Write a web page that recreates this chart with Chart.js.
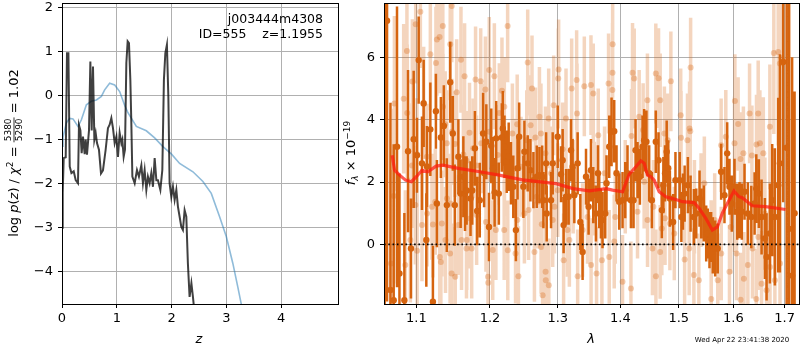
<!DOCTYPE html>
<html>
<head>
<meta charset="utf-8">
<script src="https://cdn.jsdelivr.net/npm/chart.js@4.4.0/dist/chart.umd.min.js"></script>
<style>
  html, body { margin: 0; padding: 0; background: #fff; width: 800px; height: 350px; overflow: hidden; }
  #pz { position: absolute; left: 0; top: 0; }
  #spec { position: absolute; left: 340px; top: 0; }
  canvas { display: block; }
</style>
</head>
<body>
<canvas id="pz" width="340" height="350"></canvas>
<canvas id="spec" width="460" height="350"></canvas>
<script>
// ---------- redshift panel: log p(z) and chi^2 curve ----------
const zTicks = [0, 1, 2, 3, 4];
const logpTicks = [-4, -3, -2, -1, 0, 1, 2];

const zDark = [0.000,0.013,0.031,0.068,0.091,0.117,0.141,0.172,0.214,0.250,
  0.292,0.310,0.336,0.359,0.383,0.414,0.432,0.456,0.493,0.518,
  0.542,0.566,0.591,0.615,0.639,0.675,0.712,0.748,0.797,0.839,
  0.870,0.901,0.931,0.962,0.993,1.022,1.053,1.084,1.102,1.126,
  1.150,1.175,1.199,1.223,1.248,1.266,1.285,1.327,1.369,1.405,
  1.449,1.478,1.509,1.540,1.569,1.600,1.631,1.661,1.692,1.723,
  1.752,1.796,1.832,1.861,1.887,1.916,1.942,1.965,1.996,2.026,
  2.057,2.088,2.117,2.148,2.179,2.208,2.239,2.270,2.299,2.330,
  2.363,2.391,2.422,2.460,2.520];
const logpDark = [-3.00,-2.20,-1.42,-1.40,0.96,0.96,-1.61,-1.76,-1.72,-1.92,
  -1.99,-0.67,-0.79,-1.31,-0.93,-1.33,-1.00,-1.34,-0.79,0.77,
  -0.79,0.66,-1.00,-0.85,-1.08,-1.23,-1.77,-1.70,-1.23,-0.74,
  -0.66,-0.51,-0.74,-1.08,-0.93,-1.39,-0.85,-1.08,-1.00,-1.39,
  -1.23,0.74,1.23,1.19,0.36,-0.62,-1.84,-1.99,-1.69,-1.84,
  -1.58,-1.99,-1.69,-2.14,-1.84,-1.99,-1.76,-2.07,-1.42,-1.92,
  -1.92,-2.14,-1.69,0.36,0.96,1.15,-0.02,-1.99,-2.30,-2.07,
  -2.37,-2.14,-2.52,-2.75,-2.98,-3.05,-2.60,-2.75,-3.81,-4.57,
  -4.26,-4.57,-4.95,-5.60,-6.50];

const zBlue = [0.000,0.018,0.080,0.141,0.201,0.292,0.354,0.445,0.536,0.628,
  0.719,0.779,0.870,0.962,1.053,1.144,1.204,1.358,1.540,1.692,
  1.843,2.000,2.148,2.391,2.573,2.726,2.878,3.000,3.120,3.210,
  3.270,3.400];
const logpBlue = [-1.15,-0.95,-0.62,-0.52,-0.53,-0.70,-0.55,-0.21,-0.13,-0.10,
  -0.02,0.13,0.28,0.24,0.09,-0.22,-0.39,-0.70,-0.80,-0.96,
  -1.16,-1.33,-1.54,-1.73,-1.95,-2.22,-2.75,-3.20,-3.81,-4.34,
  -4.71,-5.60];

// ---------- spectrum panel ----------
const waveTicks = [1.1, 1.2, 1.3, 1.4, 1.5, 1.6, 1.7];
const fluxTicks = [0, 2, 4, 6];

const darkWave = [1.0595,1.0625,1.0668,1.0709,1.0751,1.0782,1.0845,1.0892,1.0930,1.0965,
  1.1008,1.1030,1.1073,1.1095,1.1130,1.1138,1.1183,1.1217,1.1257,1.1270,
  1.1323,1.1363,1.1403,1.1449,1.1484,1.1511,1.1560,1.1591,1.1628,1.1651,
  1.1673,1.1727,1.1751,1.1788,1.1819,1.1856,1.1903,1.1917,1.1948,1.1986,
  1.2018,1.2042,1.2066,1.2088,1.2126,1.2169,1.2183,1.2207,1.2240,1.2268,
  1.2301,1.2335,1.2373,1.2397,1.2421,
  1.2483,1.2498,1.2547,1.2587,1.2632,1.2682,1.2722,1.2763,1.2782,1.2823,
  1.2832,1.2898,1.2923,1.3000,1.3051,1.3076,1.3091,1.3128,1.3169,1.3206,
  1.3231,1.3258,1.3310,1.3352,1.3388,1.3442,1.3483,1.3521,1.3558,1.3601,
  1.3633,1.3654,1.3681,1.3707,1.3751,1.3772,1.3816,1.3854,1.3898,1.3936,
  1.3980,1.4035,1.4080,1.4118,1.4175,1.4219,1.4253,1.4286,1.4326,1.4371,
  1.4398,1.4437,1.4484,1.4530,1.4598,
  1.4645,1.4702,1.4729,1.4758,1.4787,1.4814,1.4843,1.4900,1.4941,1.5016,
  1.5046,1.5074,1.5104,1.5162,1.5211,1.5270,1.5313,1.5372,1.5403,1.5450,
  1.5494,1.5523,1.5554,1.5585,1.5615,1.5659,1.5707,1.5770,1.5832,1.5883,
  1.5926,1.5970,1.6021,1.6073,1.6116,1.6160,1.6212,1.6276,1.6342,1.6406,
  1.6439,1.6489,1.6542,1.6607,1.6640,1.6705,1.6751,1.6804,1.6870,1.6904,
  1.6970,1.7039,1.7090,1.7150,1.7200];
const darkFlux = [2.50,7.17,-1.46,-1.79,3.13,-0.93,-1.79,2.99,-0.13,3.37,
  2.86,5.91,2.60,4.52,0.14,2.50,3.69,-1.84,4.27,1.31,
  3.43,3.80,1.26,5.20,3.56,1.26,2.81,1.63,2.17,1.63,
  1.73,1.47,1.73,3.08,1.07,1.42,3.56,2.29,3.29,0.56,
  3.16,2.44,1.67,3.40,1.63,3.43,3.72,3.13,2.65,2.81,
  2.28,1.85,0.46,2.44,3.45,
  1.85,2.97,2.60,2.38,2.06,2.17,2.22,2.17,1.42,2.60,
  0.99,1.42,2.60,3.45,2.25,2.70,0.62,1.53,1.53,3.02,
  2.49,1.58,2.60,0.72,-0.24,2.17,1.21,2.38,1.58,0.99,
  2.28,1.42,0.99,0.78,0.99,1.96,3.13,3.61,3.63,2.28,
  1.37,1.42,1.74,2.28,1.42,1.42,3.02,2.38,2.17,3.13,
  3.34,3.29,2.28,1.42,3.29,
  2.70,1.10,1.90,2.28,2.97,2.44,1.47,0.72,2.06,2.06,
  0.88,1.37,1.63,1.90,1.31,0.88,0.99,1.47,0.99,0.99,
  0.35,0.35,0.14,0.24,-0.03,-0.13,-0.13,2.33,1.58,2.92,
  1.85,1.31,1.85,1.05,1.10,1.05,1.69,0.99,0.88,1.31,
  1.79,1.63,0.88,0.19,-0.40,0.35,1.42,0.88,1.90,2.60,
  5.85,3.10,0.50,-1.00,1.00];
const darkErr = [10,9,6,5,4.5,3.2,2.8,2.6,1.6,2.2,
  1.2,1.4,1.5,1.4,1.5,1.3,1.5,1.8,1.2,1.4,
  1.3,1.3,1.5,1.3,1.2,1.3,1.2,1.1,1.3,1.2,
  1.1,1.2,1.1,1.2,1.1,1.2,1.3,1.1,1.2,1.1,
  1.2,1.0,1.1,1.2,1.0,1.1,1.2,1.0,1.0,1.1,
  1.0,1.0,1.0,1.0,1.1,
  1.0,1.0,0.9,1.0,0.9,1.0,0.9,1.0,0.9,1.0,
  0.9,0.9,1.0,1.0,0.9,1.0,0.9,0.9,0.9,1.0,
  0.9,0.9,1.0,0.9,0.9,0.9,0.9,1.0,0.9,0.9,
  0.9,0.9,0.8,0.9,0.8,0.9,1.0,1.1,1.0,0.9,
  0.9,0.9,0.9,0.9,0.9,0.9,1.0,0.9,0.9,1.0,
  1.0,1.0,0.9,0.9,1.0,
  0.9,0.9,0.9,0.9,1.0,0.9,0.9,0.9,0.9,0.9,
  0.8,0.9,0.9,0.9,0.9,0.9,0.8,0.9,0.8,0.9,
  0.9,0.8,0.9,0.8,0.9,0.9,0.8,0.9,0.9,1.0,
  0.9,0.9,0.9,0.9,0.9,0.9,0.9,1.0,1.0,1.0,
  1.1,1.1,1.2,1.3,1.4,1.6,1.8,2.2,2.8,3.5,
  4.5,5.5,9,7,3.9];

const lightWave = [1.0675,1.0709,1.0718,1.0836,1.0857,1.0878,1.0882,1.0922,1.0943,1.0948,
  1.0987,1.0991,1.1008,1.1010,1.1052,1.1073,1.1095,1.1138,1.1140,1.1183,
  1.1204,1.1217,1.1249,1.1257,1.1270,1.1306,1.1308,1.1323,1.1336,1.1349,
  1.1352,1.1381,1.1385,1.1403,1.1405,1.1447,1.1449,1.1452,1.1468,1.1470,
  1.1472,1.1515,1.1517,1.1536,1.1560,1.1595,1.1603,1.1628,1.1645,1.1671,
  1.1673,1.1675,1.1713,1.1722,1.1743,1.1764,1.1797,1.1810,1.1812,1.1869,
  1.1877,1.1901,1.1935,1.1943,1.1972,1.1975,1.1990,1.1992,1.2039,1.2062,
  1.2084,1.2110,1.2133,1.2171,1.2203,1.2205,1.2207,1.2253,1.2255,1.2322,
  1.2345,1.2368,1.2392,1.2394,1.2410,1.2448,1.2498,1.2533,1.2547,1.2560,
  1.2590,1.2611,1.2647,1.2662,1.2680,1.2700,1.2722,1.2745,1.2747,1.2758,
  1.2770,1.2813,1.2815,1.2818,1.2820,1.2862,1.2864,1.2898,1.2923,1.2938,
  1.2950,1.3000,1.3008,1.3014,1.3076,1.3091,1.3128,1.3150,1.3180,1.3216,
  1.3240,1.3294,1.3300,1.3310,1.3388,1.3415,1.3466,1.3521,1.3523,1.3558,
  1.3575,1.3611,1.3638,1.3697,1.3740,1.3805,1.3816,1.3868,1.3870,1.3872,
  1.3898,1.3915,1.4035,1.4080,1.4175,1.4185,1.4202,1.4230,1.4286,1.4314,
  1.4381,1.4398,1.4454,1.4456,1.4540,1.4557,1.4598,1.4600,1.4645,1.4673,
  1.4674,1.4702,1.4747,1.4758,1.4806,1.4843,1.4860,1.4920,1.5034,1.5040,
  1.5104,1.5155,1.5185,1.5192,1.5205,1.5211,1.5270,1.5280,1.5360,1.5400,
  1.5460,1.5585,1.5587,1.5650,1.5707,1.5770,1.5772,1.5857,1.5926,1.5950,
  1.6021,1.6023,1.6028,1.6058,1.6090,1.6136,1.6137,1.6190,1.6200,1.6276,
  1.6309,1.6354,1.6365,1.6439,1.6443,1.6476,1.6478,1.6509,1.6542,1.6576,
  1.6607,1.6640,1.6705,1.6707,1.6783,1.6804,1.6870,1.6904,1.6906,1.6937];
const lightFlux = [-0.61,1.55,4.52,4.67,-0.66,6.20,4.21,0.14,2.53,5.22,
  1.26,7.06,2.89,-0.20,7.46,0.62,4.54,2.81,0.99,6.10,
  1.21,0.64,1.37,5.82,6.57,6.65,-0.40,-0.56,0.67,7.00,
  4.41,3.85,0.14,3.24,1.47,-0.29,6.42,1.31,-0.93,7.64,
  3.61,3.22,-1.04,4.88,0.62,5.92,0.14,2.88,5.39,-0.13,
  2.68,0.14,3.58,0.83,-0.13,3.08,5.29,2.53,0.94,5.23,
  3.24,3.56,4.97,0.72,-1.04,-1.23,5.59,3.61,-0.18,5.39,
  0.46,2.87,4.21,4.93,0.46,4.41,2.52,7.00,-0.19,3.56,
  2.43,-0.29,3.85,0.78,-1.02,2.49,0.99,3.34,5.83,1.10,
  3.82,5.00,-0.24,3.43,1.53,1.37,4.09,3.56,-0.08,0.65,
  -1.63,2.92,-0.88,-1.15,0.99,4.04,-1.31,2.28,0.78,4.46,
  1.21,1.74,5.32,5.61,3.05,-0.51,4.04,0.46,0.14,5.00,
  1.85,5.27,4.20,-1.02,0.46,5.07,0.88,5.11,-0.66,4.84,
  1.79,-0.93,3.50,-0.51,2.28,5.16,-0.40,4.95,5.50,6.42,
  0.09,0.88,-1.20,1.85,-1.41,3.48,5.50,5.32,1.05,4.09,
  3.67,2.01,4.62,0.78,-0.13,1.21,5.48,-1.02,5.33,-0.24,
  4.62,0.51,3.56,0.84,3.34,0.67,5.23,0.35,4.14,3.42,
  -0.48,3.34,-0.13,3.72,3.63,5.67,-0.98,1.21,-1.15,1.42,
  1.96,-0.08,-1.75,0.78,-1.15,3.18,-0.29,3.45,-0.88,0.56,
  3.24,1.26,4.60,-0.29,3.86,2.74,-1.77,2.92,-1.10,-0.66,
  4.20,2.85,-0.13,-1.75,3.20,4.20,0.24,3.24,-1.26,2.92,
  0.99,-1.47,3.77,-0.72,6.14,-1.15,6.17,5.80,-0.61,5.97];
const lightErr = [3.0,2.8,2.8,2.4,2.4,2.2,2.2,2.0,2.0,2.0,
  1.9,1.9,1.8,1.8,1.8,1.8,1.8,1.7,1.7,1.8,
  1.7,1.7,1.7,1.8,1.8,1.8,1.7,1.7,1.7,1.8,
  1.7,1.7,1.7,1.7,1.6,1.6,1.8,1.6,1.6,1.8,
  1.7,1.7,1.6,1.7,1.6,1.7,1.6,1.6,1.7,1.6,
  1.6,1.6,1.6,1.6,1.6,1.6,1.7,1.6,1.6,1.7,
  1.6,1.6,1.7,1.6,1.6,1.6,1.7,1.6,1.6,1.7,
  1.6,1.6,1.6,1.7,1.6,1.6,1.6,1.8,1.6,1.6,
  1.6,1.6,1.6,1.6,1.6,1.6,1.6,1.6,1.7,1.6,
  1.6,1.7,1.6,1.6,1.5,1.5,1.6,1.6,1.5,1.5,
  1.5,1.5,1.5,1.5,1.5,1.6,1.5,1.5,1.5,1.6,
  1.5,1.5,1.6,1.6,1.5,1.5,1.6,1.5,1.5,1.6,
  1.5,1.6,1.6,1.5,1.5,1.6,1.5,1.6,1.5,1.6,
  1.5,1.5,1.5,1.5,1.5,1.6,1.5,1.6,1.6,1.7,
  1.5,1.5,1.5,1.5,1.5,1.5,1.6,1.6,1.5,1.5,
  1.5,1.5,1.5,1.5,1.5,1.5,1.6,1.5,1.6,1.5,
  1.5,1.5,1.5,1.5,1.5,1.5,1.6,1.5,1.5,1.5,
  1.5,1.5,1.5,1.5,1.5,1.6,1.5,1.5,1.5,1.5,
  1.5,1.5,1.5,1.5,1.5,1.5,1.5,1.5,1.5,1.5,
  1.5,1.5,1.5,1.5,1.5,1.5,1.5,1.5,1.5,1.5,
  1.6,1.6,1.6,1.6,1.6,1.7,1.7,1.7,1.7,1.8,
  1.8,1.9,2.0,2.0,2.6,2.4,3.0,3.5,3.0,4.0];

const modelWave = [1.0690,1.0720,1.0785,1.0860,1.0935,1.1000,1.1073,1.1150,1.1260,1.1350,
  1.1560,1.1856,1.2130,1.2470,1.2977,1.3236,1.3494,1.3765,1.3870,1.4035,
  1.4146,1.4258,1.4342,1.4398,1.4455,1.4513,1.4570,1.4656,1.4772,1.4948,
  1.5065,1.5274,1.5364,1.5486,1.5607,1.5700,1.5792,1.5918,1.6012,1.6106,
  1.6168,1.6360,1.6620,1.7017];
const modelFlux = [2.86,2.38,2.22,2.06,2.01,2.17,2.38,2.33,2.51,2.54,
  2.44,2.33,2.22,2.07,1.95,1.79,1.72,1.79,1.74,1.69,
  2.25,2.49,2.68,2.60,2.22,2.17,2.06,1.69,1.53,1.44,
  1.37,1.34,1.16,0.84,0.46,0.56,1.00,1.42,1.71,1.53,
  1.50,1.24,1.21,1.12];

const waveMin = 1.0587, waveMax = 1.7290;
const fluxMin = -1.91, fluxMax = 7.74;

// ---------- shared styling ----------
const FAMILY = "'DejaVu Sans', sans-serif";
const ORANGE = '#d6640f';
const ORANGE_BAR_LIGHT = 'rgba(214,100,15,0.27)';
const ORANGE_DOT_LIGHT = 'rgba(214,100,15,0.32)';

function signed(v, digits) {
  const s = Math.abs(v).toFixed(digits);
  return v < 0 ? '\u2212' + s : s;
}
function fixedTicks(list) {
  return scale => { scale.ticks = list.map(v => ({ value: v })); };
}
// fixed axis band thickness, no extra label overhang padding
function fixedBand(size) {
  return scale => {
    if (scale.isHorizontal()) scale.height = size; else scale.width = size;
    scale.paddingTop = 0; scale.paddingBottom = 0;
    scale.paddingLeft = 0; scale.paddingRight = 0;
  };
}
function axis(opts) {
  return Object.assign({
    bounds: 'data',
    border: { display: false },
    grid: { color: '#b0b0b0', lineWidth: 1, tickColor: '#000', tickLength: 4, tickWidth: 1 }
  }, opts);
}
function errSegments(w, f, e) {
  const pts = [];
  for (let i = 0; i < w.length; i++) {
    pts.push({ x: w[i], y: f[i] - e[i] }, { x: w[i], y: f[i] + e[i] }, { x: w[i], y: null });
  }
  return pts;
}
function xy(xs, ys) { return xs.map((x, i) => ({ x: x, y: ys[i] })); }

function font(size, italic) {
  return (italic ? 'italic ' : '') + size + 'px ' + FAMILY;
}
// rich text: runs of plain / italic / sub / superscript and a stacked fraction
function richWidth(ctx, parts) {
  let w = 0;
  for (const p of parts) {
    ctx.font = font(p.size, p.italic);
    if (p.frac) w += Math.max(ctx.measureText(p.frac[0]).width, ctx.measureText(p.frac[1]).width) + 2;
    else w += ctx.measureText(p.t).width;
  }
  return w;
}
function drawRich(ctx, parts, x, y) {
  ctx.textAlign = 'left';
  ctx.textBaseline = 'alphabetic';
  for (const p of parts) {
    ctx.font = font(p.size, p.italic);
    if (p.frac) {
      const wn = ctx.measureText(p.frac[0]).width, wd = ctx.measureText(p.frac[1]).width;
      const w = Math.max(wn, wd) + 2;
      ctx.fillText(p.frac[0], x + (w - wn) / 2, y + p.numDy);
      ctx.fillText(p.frac[1], x + (w - wd) / 2, y + p.denDy);
      ctx.fillRect(x, y + p.barDy, w, 0.8);
      x += w;
    } else {
      ctx.fillText(p.t, x, y + (p.dy || 0));
      x += ctx.measureText(p.t).width;
    }
  }
}
function drawRotated(ctx, parts, cx, cy) {
  ctx.save();
  ctx.translate(cx, cy);
  ctx.rotate(-Math.PI / 2);
  ctx.fillStyle = '#000';
  drawRich(ctx, parts, -richWidth(ctx, parts) / 2, 0);
  ctx.restore();
}

const framePlugin = {
  id: 'frame',
  afterDraw(chart) {
    const { ctx, chartArea: a } = chart;
    ctx.save();
    ctx.strokeStyle = '#000';
    ctx.lineWidth = 1;
    ctx.strokeRect(a.left + 0.5, a.top + 0.5, a.right - a.left, a.bottom - a.top);
    ctx.restore();
  }
};

const tickFont = { family: FAMILY, size: 13 };

// ---------- left chart ----------
const pzLabels = {
  id: 'pzLabels',
  afterDraw(chart) {
    const ctx = chart.ctx;
    drawRotated(ctx, [
      { t: 'log ', size: 13 },
      { t: 'p', size: 13, italic: true },
      { t: '(', size: 13 },
      { t: 'z', size: 13, italic: true },
      { t: ') / ', size: 13 },
      { t: '\u03c7', size: 13, italic: true },
      { t: '2', size: 9, dy: -5 },
      { t: ' = ', size: 13 },
      { frac: ['5380', '5290'], size: 9, numDy: -7, denDy: 4, barDy: -4.4 },
      { t: ' = 1.02', size: 13 }
    ], 18, 153);
    ctx.save();
    ctx.fillStyle = '#000';
    ctx.textAlign = 'center';
    ctx.textBaseline = 'middle';
    ctx.font = font(13, true);
    ctx.fillText('z', 199, 340);
    ctx.textAlign = 'right';
    ctx.font = font(12.5, false);
    ctx.fillText('j003444m4308', 323, 20);
    ctx.fillText('ID=555    z=1.1955', 323, 35);
    ctx.restore();
  }
};

new Chart(document.getElementById('pz'), {
  type: 'scatter',
  data: {
    datasets: [
      { data: xy(zDark, logpDark), showLine: true, borderColor: 'rgba(0,0,0,0.75)', borderWidth: 2,
        pointRadius: 0, tension: 0, order: 1, clip: 0 },
      { data: xy(zBlue, logpBlue), showLine: true, borderColor: 'rgba(31,119,180,0.5)', borderWidth: 1.6,
        pointRadius: 0, tension: 0, order: 2, clip: 0 }
    ]
  },
  options: {
    responsive: false, animation: false, events: [],
    layout: { autoPadding: false, padding: { top: 3, right: 2, left: 0, bottom: 0 } },
    plugins: { legend: { display: false }, tooltip: { enabled: false } },
    scales: {
      x: axis({ type: 'linear', min: 0, max: 5.04, afterBuildTicks: fixedTicks(zTicks),
        afterFit: fixedBand(46),
        ticks: { color: '#000', font: tickFont, padding: 3, autoSkip: false, maxRotation: 0,
          callback: v => signed(v, 0) } }),
      y: axis({ type: 'linear', min: -4.73, max: 2.1, afterBuildTicks: fixedTicks(logpTicks),
        afterFit: fixedBand(62),
        ticks: { color: '#000', font: tickFont, padding: 5, autoSkip: false,
          callback: v => signed(v, 0) } })
    }
  },
  plugins: [framePlugin, pzLabels]
});

// ---------- right chart ----------
const specLabels = {
  id: 'specLabels',
  afterDraw(chart) {
    const ctx = chart.ctx;
    drawRotated(ctx, [
      { t: 'f', size: 13, italic: true },
      { t: '\u03bb', size: 9, italic: true, dy: 3 },
      { t: ' \u00d7 10', size: 13 },
      { t: '\u221219', size: 9, dy: -5.5 }
    ], 15, 153);
    ctx.save();
    ctx.fillStyle = '#000';
    ctx.textAlign = 'center';
    ctx.textBaseline = 'middle';
    ctx.font = font(13, true);
    ctx.fillText('\u03bb', 251, 340);
    ctx.font = font(7, false);
    ctx.fillText('Wed Apr 22 23:41:38 2020', 402, 340);
    ctx.restore();
  }
};

new Chart(document.getElementById('spec'), {
  type: 'scatter',
  data: {
    datasets: [
      { data: errSegments(lightWave, lightFlux, lightErr), showLine: true, spanGaps: false,
        borderColor: ORANGE_BAR_LIGHT, borderWidth: 3.5, pointRadius: 0, order: 6, clip: 0 },
      { data: xy(lightWave, lightFlux), pointRadius: 3, pointBackgroundColor: ORANGE_DOT_LIGHT,
        pointBorderWidth: 0, order: 5, clip: 0 },
      { data: errSegments(darkWave, darkFlux, darkErr), showLine: true, spanGaps: false,
        borderColor: ORANGE, borderWidth: 2.5, pointRadius: 0, order: 4, clip: 0 },
      { data: xy(darkWave, darkFlux), pointRadius: 3.2, pointBackgroundColor: ORANGE,
        pointBorderWidth: 0, order: 3, clip: 0 },
      { data: xy(modelWave, modelFlux), showLine: true, borderColor: 'rgba(255,25,15,0.72)', borderWidth: 3.2,
        pointRadius: 0, tension: 0, order: 2, clip: 0 },
      { data: [{ x: waveMin, y: 0 }, { x: waveMax, y: 0 }], showLine: true, borderColor: '#000',
        borderWidth: 1.6, borderDash: [1.6, 2.7], pointRadius: 0, order: 1, clip: 0 }
    ]
  },
  options: {
    responsive: false, animation: false, events: [],
    layout: { autoPadding: false, padding: { top: 3, right: 1, left: 0, bottom: 0 } },
    plugins: { legend: { display: false }, tooltip: { enabled: false } },
    scales: {
      x: axis({ type: 'logarithmic', min: waveMin, max: waveMax, afterBuildTicks: fixedTicks(waveTicks),
        afterFit: fixedBand(46),
        ticks: { color: '#000', font: tickFont, padding: 3, autoSkip: false, maxRotation: 0,
          callback: v => Number(v).toFixed(1) } }),
      y: axis({ type: 'linear', min: fluxMin, max: fluxMax, afterBuildTicks: fixedTicks(fluxTicks),
        afterFit: fixedBand(44),
        ticks: { color: '#000', font: tickFont, padding: 5, autoSkip: false,
          callback: v => signed(v, 0) } })
    }
  },
  plugins: [framePlugin, specLabels]
});
</script>
</body>
</html>
